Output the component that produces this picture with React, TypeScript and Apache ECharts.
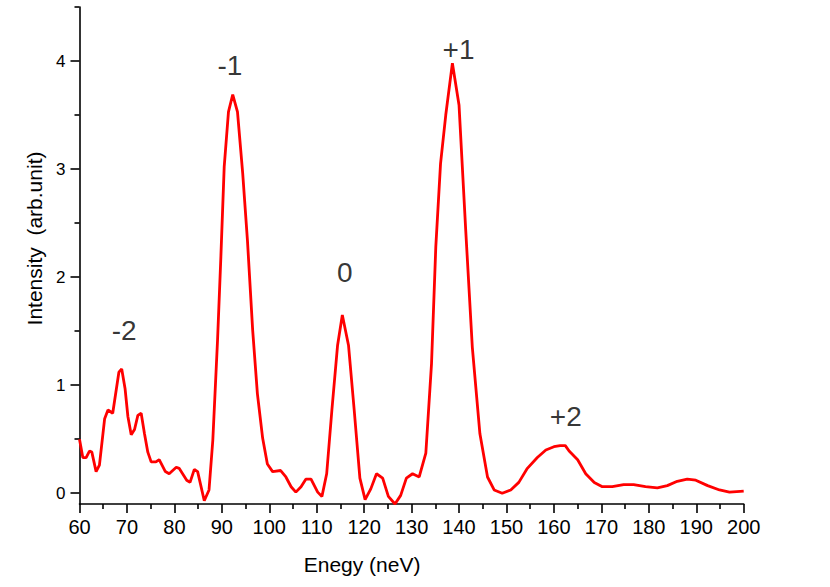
import React, { useEffect, useRef } from "react";
import * as echarts from "echarts";

const energy: number[] = [
  60.0, 60.7, 61.4, 62.1, 62.6, 63.5, 64.2, 65.3, 66.0, 67.0, 68.3, 68.9, 69.6, 70.2, 70.9, 71.6, 72.3, 73.0, 73.7, 74.4,
  75.1, 76.1, 76.8, 78.1, 78.9, 80.4, 81.0, 82.6, 83.3, 84.2, 84.9, 86.3, 87.3, 88.1, 89.1, 89.8, 90.5, 91.4, 92.3, 93.3,
  94.4, 95.4, 96.5, 97.5, 98.6, 99.6, 100.7, 102.4, 103.5, 104.6, 105.6, 106.7, 107.7, 108.8, 110.2, 111.1, 112.1, 113.2,
  114.4, 115.4, 116.7, 117.9, 119.1, 120.2, 121.4, 122.6, 123.9, 125.1, 126.5, 127.7, 128.9, 130.2, 131.6, 133.0, 134.2,
  135.1, 136.1, 137.2, 138.6, 140.0, 141.4, 142.8, 144.4, 146.0, 147.4, 149.1, 150.9, 152.6, 154.4, 156.5, 158.3, 160.0,
  161.3, 162.4, 163.2, 165.0, 166.7, 168.5, 170.2, 172.3, 174.7, 176.8, 179.3, 181.8, 183.9, 186.0, 188.1, 189.9, 192.4,
  194.9, 197.0, 200.0,
];

const intensity: number[] = [
  0.5, 0.33, 0.33, 0.39, 0.38, 0.2, 0.26, 0.69, 0.77, 0.74, 1.12, 1.15, 0.97, 0.71, 0.54, 0.59, 0.72, 0.74, 0.55, 0.38,
  0.29, 0.29, 0.31, 0.2, 0.18, 0.24, 0.23, 0.12, 0.1, 0.22, 0.2, -0.07, 0.03, 0.49, 1.42, 2.19, 3.02, 3.53, 3.69, 3.53,
  2.96, 2.34, 1.51, 0.92, 0.51, 0.27, 0.2, 0.21, 0.15, 0.06, 0.01, 0.06, 0.13, 0.13, 0.01, -0.03, 0.18, 0.77,
  1.37, 1.65, 1.37, 0.77, 0.14, -0.06, 0.04, 0.18, 0.14, -0.03, -0.1, -0.02, 0.14, 0.18, 0.15, 0.37, 1.2,
  2.28, 3.05, 3.5, 3.98, 3.59, 2.44, 1.35, 0.55, 0.15, 0.03, 0.0, 0.03, 0.1, 0.23, 0.33, 0.4, 0.43,
  0.44, 0.44, 0.39, 0.31, 0.18, 0.1, 0.06, 0.06, 0.08, 0.08, 0.06, 0.05, 0.07, 0.11, 0.13, 0.12, 0.07,
  0.03, 0.01, 0.02,
];

const peakLabels: string[] = ["-2", "-1", "0", "+1", "+2"];
const peakX: number[] = [69.4, 91.7, 115.9, 139.9, 162.5];
const peakY: number[] = [1.51, 3.96, 2.04, 4.11, 0.71];

const yMajorTicks: number[] = [0, 1, 2, 3, 4];
const yMinorTicks: number[] = [0.5, 1.5, 2.5, 3.5, 4.5];

const FONT = "'Liberation Sans', Arial, Helvetica, sans-serif";

export default function App() {
  const ref = useRef<HTMLDivElement>(null);

  useEffect(() => {
    if (!ref.current) return;
    const chart = echarts.init(ref.current, undefined, { renderer: "svg" });
    const lineData = energy.map((x, i) => [x, intensity[i]]);
    const labelData = peakX.map((x, i) => [x, peakY[i], peakLabels[i]]);
    const axisLineStyle = { color: "#000", width: 1.6 };

    chart.setOption({
      animation: false,
      backgroundColor: "#fff",
      textStyle: { fontFamily: FONT },
      grid: { left: 79.5, right: 86.3, top: 7, bottom: 83, containLabel: false },
      xAxis: {
        type: "value",
        min: 60,
        max: 200,
        interval: 10,
        name: "Enegy (neV)",
        nameLocation: "middle",
        nameGap: 50,
        nameTextStyle: { color: "#000", fontSize: 21, fontFamily: FONT, padding: [0, 99, 0, 0] },
        axisLine: { show: true, onZero: false, lineStyle: axisLineStyle },
        axisTick: { show: true, length: 9, inside: false, lineStyle: axisLineStyle },
        minorTick: { show: true, splitNumber: 2, length: 5, lineStyle: axisLineStyle },
        axisLabel: { color: "#000", fontSize: 20, margin: 13, fontFamily: FONT },
        splitLine: { show: false },
        minorSplitLine: { show: false },
      },
      yAxis: [
        {
          type: "value",
          min: -0.1,
          max: 4.5,
          position: "left",
          name: "Intensity  (arb.unit)",
          nameLocation: "middle",
          nameGap: 32,
          nameTextStyle: { color: "#000", fontSize: 21, fontFamily: FONT, padding: [0, 0, 0, 34] },
          axisLine: { show: true, onZero: false, lineStyle: axisLineStyle },
          axisTick: { show: true, length: 9, inside: false, customValues: yMajorTicks, lineStyle: axisLineStyle },
          axisLabel: { color: "#000", fontSize: 17, margin: 14, customValues: yMajorTicks, fontFamily: FONT },
          splitLine: { show: false },
        },
        {
          type: "value",
          min: -0.1,
          max: 4.5,
          position: "left",
          axisLine: { show: false, onZero: false },
          axisTick: { show: true, length: 5, inside: false, customValues: yMinorTicks, lineStyle: axisLineStyle },
          axisLabel: { show: false, customValues: yMinorTicks },
          splitLine: { show: false },
        },
      ],
      series: [
        {
          type: "line",
          data: lineData,
          xAxisIndex: 0,
          yAxisIndex: 0,
          showSymbol: false,
          symbol: "none",
          smooth: false,
          clip: false,
          lineStyle: { color: "#ff0000", width: 2.8 },
          itemStyle: { color: "#ff0000" },
        },
        {
          type: "scatter",
          data: labelData,
          xAxisIndex: 0,
          yAxisIndex: 0,
          symbolSize: 1,
          itemStyle: { color: "rgba(0,0,0,0)" },
          clip: false,
          label: {
            show: true,
            position: "inside",
            formatter: (p: any) => p.value[2],
            color: "#000",
            fontSize: 28,
            fontFamily: FONT,
          },
        },
      ],
    });
    return () => chart.dispose();
  }, []);

  return <div ref={ref} style={{ width: 830, height: 587, position: "absolute", left: 0, top: 0 }} />;
}
